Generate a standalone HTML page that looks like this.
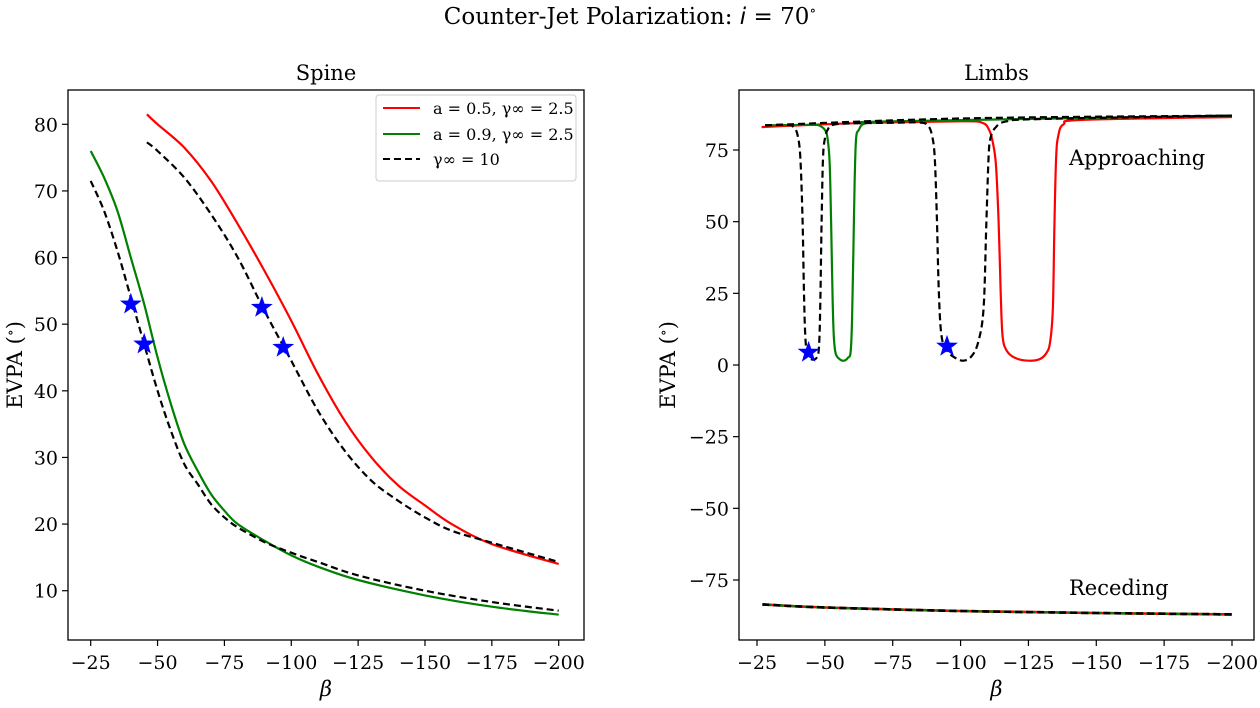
<!DOCTYPE html>
<html><head><meta charset="utf-8"><style>
body{margin:0;background:#fff;width:1260px;height:703px;overflow:hidden}
svg text{font-family:"DejaVu Serif","Liberation Serif",serif;fill:#000}
</style></head><body>
<svg id="fig" width="1260" height="703" xmlns="http://www.w3.org/2000/svg">
<text x="630" y="24" font-size="23" text-anchor="middle">Counter-Jet Polarization: <tspan font-style="italic" font-family="DejaVu Sans">i</tspan> = 70<tspan dy="-9" font-size="14">∘</tspan></text>
</svg>
<script>
// ---- Spine data ----
const spineGreenX=[-25,-30,-35,-40,-45,-50,-55,-60,-65,-70,-75,-80,-90,-100,-110,-125,-150,-175,-200];
const spineGreenY=[76,72,67,60,53,45,38,32,28,24.5,22,20,17.5,15.3,13.6,11.6,9.3,7.6,6.4];
const spineBlackLoX=[-25,-30,-35,-40,-45,-50,-55,-60,-65,-70,-75,-80,-90,-100,-110,-125,-150,-175,-200];
const spineBlackLoY=[71.5,67,61,54,47,40,34,29,26,23,21,19.5,17.3,15.7,14.3,12.3,10,8.3,7];
const spineRedX=[-46,-50,-60,-70,-80,-90,-100,-110,-120,-130,-140,-150,-160,-175,-200];
const spineRedY=[81.5,80,76.5,71.5,65,58,50.5,42.5,35.5,30,25.8,22.8,20,17,14];
const spineBlackHiX=[-46,-50,-60,-70,-80,-90,-100,-110,-120,-130,-140,-150,-160,-175,-200];
const spineBlackHiY=[77.3,76,72,66.5,60,52,44.5,37,31,26.5,23.5,21,19,17.2,14.3];
const spineStarX=[-40,-45,-89,-97];
const spineStarY=[53,47,52.5,46.5];
const spineYTicks=[10,20,30,40,50,60,70,80];
const xTicks=[-25,-50,-75,-100,-125,-150,-175,-200];
// ---- Limbs data ----
const limbRedX=[-26.7,-60,-100,-108,-110.5,-111.8,-113,-114,-114.8,-115.5,-117,-120,-125,-129,-131.5,-133,-134,-134.6,-135.2,-136,-138,-145,-200];
const limbRedY=[83,84.3,85,84.5,82,78,70,50,25,10,5,2.5,1.5,2,4,8,20,50,72,80,84,85.5,86.5];
const limbGreenX=[-28,-45,-48,-50,-51,-51.8,-52.3,-52.8,-53.3,-54,-55.5,-57,-58.5,-59.5,-60,-60.5,-61,-61.5,-62.5,-65,-75,-200];
const limbGreenY=[83.6,83.8,83.5,82,79,70,50,25,10,4,2,1.5,2.5,4.5,15,40,65,79,82,84.3,85,87];
const limbBlackX=[-28,-36,-38.5,-40,-41,-41.8,-42.3,-42.8,-43.5,-45,-47,-47.8,-48.3,-48.8,-49.3,-50,-51,-53,-60,-75,-85,-88,-89.5,-90.5,-91.3,-92,-93,-95,-98,-101,-104,-106.5,-108.5,-109.5,-110.3,-111,-113,-117,-130,-200];
const limbBlackY=[83.6,83.8,83,80,72,50,25,10,4,2,2.5,6,20,50,72,79,82,83.8,84.3,84.5,84.6,83.5,80,72,50,25,10,5,2.5,1.5,3,8,20,50,72,79,83,85,85.8,87];
const limbTopX=[-28,-100,-200];
const limbTopY=[83.6,86,87];
const recedX=[-27,-50,-100,-150,-200];
const recedY=[-83.5,-84.6,-85.8,-86.5,-87];
const limbStarX=[-44,-95];
const limbStarY=[4.4,6.5];
const limbYTicks=[-75,-50,-25,0,25,50,75];

const NS="http://www.w3.org/2000/svg";
const svg=document.getElementById('fig');
function mk(tag,attrs,parent){const e=document.createElementNS(NS,tag);for(const k in attrs)e.setAttribute(k,attrs[k]);(parent||svg).appendChild(e);return e;}

function axes(o){
  const g=mk('g',{});
  
  
  const sx=v=>o.x0+(v-o.xa)/(o.xb-o.xa)*(o.x1-o.x0);
  const sy=v=>o.y0+(v-o.ya)/(o.yb-o.ya)*(o.y1-o.y0);
  o.g=g;
  xTicks.forEach(t=>{const x=sx(t);mk('line',{x1:x,x2:x,y1:o.B,y2:o.B+6,stroke:'#000','stroke-width':1.2},g);
    const tx=mk('text',{x:x,y:o.B+29,'font-size':19,'text-anchor':'middle'},g);tx.textContent=String(t).replace('-','−');
    
    });
  o.yt.forEach(t=>{const y=sy(t);mk('line',{x1:o.L-6,x2:o.L,y1:y,y2:y,stroke:'#000','stroke-width':1.2},g);
    const tx=mk('text',{x:o.L-10,y:y+7,'font-size':19,'text-anchor':'end'},g);tx.textContent=String(t).replace('-','−');
    
    });
  const t=mk('text',{x:(o.L+o.R)/2,y:o.T-10,'font-size':21,'text-anchor':'middle'},g);t.textContent=o.title;
  
  
  const xl=mk('text',{x:(o.L+o.R)/2,y:o.B+56,'font-size':21,'text-anchor':'middle','font-style':'italic','font-family':'DejaVu Sans'},g);xl.textContent='β';
  
  
  const yl=mk('text',{x:0,y:0,'font-size':21,'text-anchor':'middle',transform:`translate(${o.ylX},${(o.T+o.B)/2}) rotate(-90)`},g);yl.innerHTML='EVPA (<tspan dy="-7" font-size="14">∘</tspan><tspan dy="7">)</tspan>';
  
  
  return {g,sx,sy,o};
}
function frame(ax){const o=ax.o;
  const fr=mk('rect',{x:o.L,y:o.T,width:o.R-o.L,height:o.B-o.T,fill:'none',stroke:'#000','stroke-width':1.3},ax.g);
  
  }
function line(ax,X,Y,color,dash,name,w){
  const P=X.map((x,i)=>[ax.sx(x),ax.sy(Y[i])]);
  let d='M'+P[0][0].toFixed(1)+','+P[0][1].toFixed(1);
  for(let i=0;i<P.length-1;i++){
    const p0=P[Math.max(0,i-1)],p1=P[i],p2=P[i+1],p3=P[Math.min(P.length-1,i+2)];
    const c1=[p1[0]+(p2[0]-p0[0])/6,p1[1]+(p2[1]-p0[1])/6];
    const c2=[p2[0]-(p3[0]-p1[0])/6,p2[1]-(p3[1]-p1[1])/6];
    d+='C'+c1.map(v=>v.toFixed(1)).join(',')+' '+c2.map(v=>v.toFixed(1)).join(',')+' '+p2[0].toFixed(1)+','+p2[1].toFixed(1);
  }
  const p=mk('path',{d:d,fill:'none',stroke:color,'stroke-width':w||2.2,'stroke-dasharray':dash||'none','stroke-linejoin':'round'},ax.g);
  
  
}
function stars(ax,X,Y){
  X.forEach((x,i)=>{const cx=ax.sx(x),cy=ax.sy(Y[i]);let pts=[];
    for(let k=0;k<10;k++){const r=k%2?4.6:11.5;const a=-Math.PI/2+k*Math.PI/5;pts.push((cx+r*Math.cos(a)).toFixed(1)+','+(cy+r*Math.sin(a)).toFixed(1));}
    const s=mk('polygon',{points:pts.join(' '),fill:'#0000ff'},ax.g);
    
    });
}
const A=axes({name:'spine-axes',L:68,R:584,T:90,B:640,x0:90.7,x1:558.7,xa:-25,xb:-200,y0:124.3,y1:590.7,ya:80,yb:10,yt:spineYTicks,title:'Spine',ylX:22});
line(A,spineRedX,spineRedY,'#ff0000',null,'spine-red-line');
line(A,spineGreenX,spineGreenY,'#008000',null,'spine-green-line');
line(A,spineBlackLoX,spineBlackLoY,'#000','7,4','spine-black-lower-line');
line(A,spineBlackHiX,spineBlackHiY,'#000','7,4','spine-black-upper-line');
stars(A,spineStarX,spineStarY);
frame(A);
// legend
const lg=mk('g',{});


mk('rect',{x:376,y:95,width:200,height:86,rx:3,fill:'#fff',stroke:'#ccc'},lg);
[['#ff0000',null,'a = 0.5, γ∞ = 2.5',108],['#008000',null,'a = 0.9, γ∞ = 2.5',134],['#000','7,4','γ∞ = 10',159]].forEach(e=>{
  mk('line',{x1:383,x2:420,y1:e[3],y2:e[3],stroke:e[0],'stroke-width':2,'stroke-dasharray':e[1]||'none'},lg);
  const t=mk('text',{x:433,y:e[3]+6,'font-size':16,'font-family':'DejaVu Sans'},lg);t.textContent=e[2];
  
  
});
const B=axes({name:'limbs-axes',L:739,R:1254,T:90,B:640,x0:757,x1:1232,xa:-25,xb:-200,y0:150,y1:580,ya:75,yb:-75,yt:limbYTicks,title:'Limbs',ylX:675});
line(B,limbRedX,limbRedY,'#ff0000',null,'limb-red-line');
line(B,limbGreenX,limbGreenY,'#008000',null,'limb-green-line');
line(B,limbTopX,limbTopY,'#000','7,4','limb-top-line');
line(B,limbBlackX,limbBlackY,'#000','7,4','limb-black-line');
line(B,recedX,recedY,'#ff0000',null,'receding-red-line',2.6);
line(B,recedX,recedY,'#008000','3,3','receding-green-line',2.6);
line(B,recedX,recedY,'#000','7,4','receding-black-line',2.6);
stars(B,limbStarX,limbStarY);
frame(B);
const ap=mk('text',{x:1069,y:165,'font-size':21});ap.textContent='Approaching';


const rc=mk('text',{x:1069,y:595,'font-size':21});rc.textContent='Receding';


</script>
</body></html>
